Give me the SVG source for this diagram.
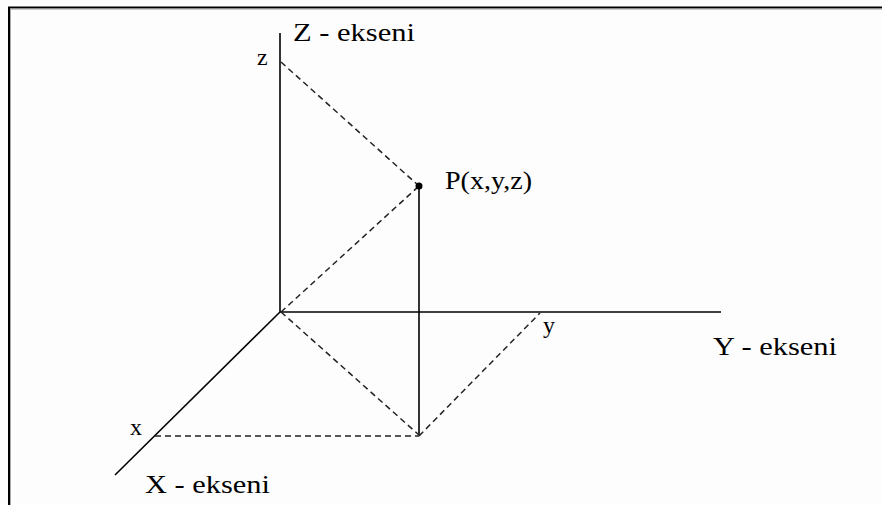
<svg xmlns="http://www.w3.org/2000/svg" width="882" height="505" viewBox="0 0 882 505">
<style>
.axis{stroke:#000;stroke-width:1.6;fill:none}
.dash{stroke:#222;stroke-width:1.5;stroke-dasharray:6 4;fill:none}
text{font-family:'Liberation Serif','DejaVu Serif','Times New Roman',serif;fill:#000}
.t{font-size:25px}
.s{font-size:24px}
</style>
<rect width="882" height="505" fill="#fdfdfd"/>
<g id="frame">
<line x1="8" y1="7.5" x2="882" y2="7.5" stroke="#000" stroke-width="2"/>
<line x1="8" y1="9" x2="882" y2="9" stroke="#999" stroke-width="1"/>
<line x1="9" y1="7" x2="9" y2="505" stroke="#000" stroke-width="2"/>
<line x1="10.5" y1="9" x2="10.5" y2="505" stroke="#aaa" stroke-width="1"/>
</g>
<g id="connectors">
<line class="axis" x1="280" y1="33" x2="280" y2="312"/>
<line class="axis" x1="280" y1="312" x2="721" y2="312"/>
<line class="axis" x1="280" y1="312" x2="115" y2="475" stroke="#333"/>
<line class="axis" x1="419" y1="186" x2="419" y2="435"/>
<line class="dash" x1="281" y1="62" x2="419" y2="186"/>
<line class="dash" x1="281" y1="312" x2="419" y2="186"/>
<line class="dash" x1="281" y1="312" x2="419" y2="435"/>
<line class="dash" x1="155" y1="436" x2="419" y2="436"/>
<line class="dash" x1="419" y1="436" x2="540" y2="313"/>
</g>
<g id="point-P">
<circle cx="419" cy="186" r="3.5" fill="#000"/>
<text class="t" x="445" y="189" textLength="87" lengthAdjust="spacingAndGlyphs">P(x,y,z)</text>
</g>
<g id="z-axis-label"><text class="t" x="293" y="41" textLength="122" lengthAdjust="spacingAndGlyphs">Z - ekseni</text></g>
<g id="y-axis-label"><text class="t" x="713" y="355" textLength="124" lengthAdjust="spacingAndGlyphs">Y - ekseni</text></g>
<g id="x-axis-label"><text class="t" x="145" y="493" textLength="125" lengthAdjust="spacingAndGlyphs">X - ekseni</text></g>
<g id="z-tick"><text class="s" x="257" y="65">z</text></g>
<g id="y-tick"><text class="s" x="543" y="333">y</text></g>
<g id="x-tick"><text class="s" x="130" y="435">x</text></g>
</svg>
